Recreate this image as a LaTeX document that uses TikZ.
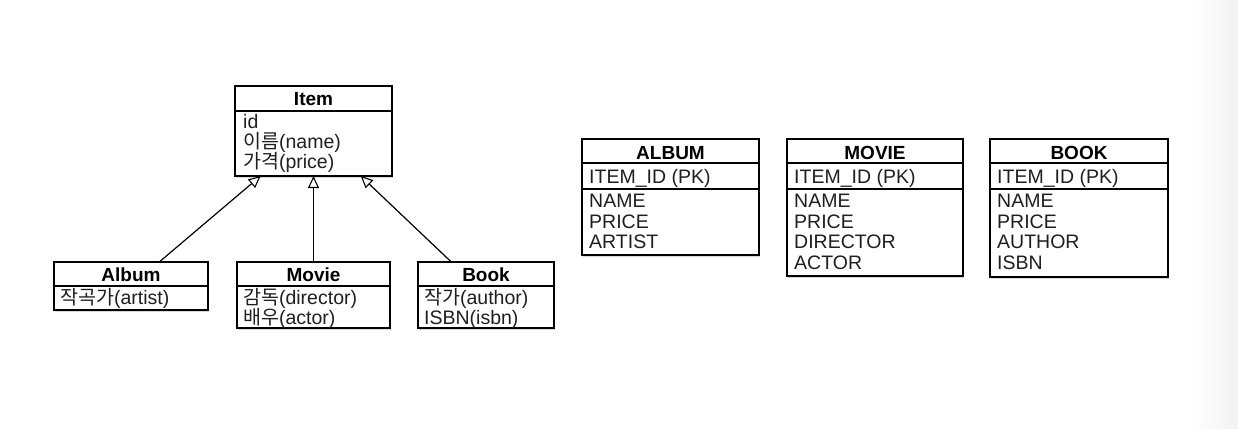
\documentclass[tikz,border=0pt]{standalone}
\usepackage{fontspec}
\setmainfont{Liberation Sans}
\newfontfamily\krfont{Noto Sans CJK KR}
\newcommand\kor[1]{{\krfont #1}}
\usetikzlibrary{arrows.meta,shadows}
\begin{document}
\begin{tikzpicture}[x=1pt,y=-1pt,
  box/.style={draw=black, line width=1.3pt, fill=white, inner sep=0pt, outer sep=0pt,
    drop shadow={shadow xshift=1.2pt, shadow yshift=-1.6pt, opacity=0.3}},
  title/.style={font=\fontsize{19}{21}\selectfont\bfseries, anchor=base, inner sep=0pt},
  attr/.style={font=\fontsize{19.5}{21}\selectfont, text=black!88, anchor=base west, inner sep=0pt},
  divider/.style={line width=1.3pt},
  gen/.style={line width=1.2pt, -{Triangle[open, length=12pt, width=11pt, line width=1.1pt]}}]
\useasboundingbox (0,0) rectangle (1238,428);
\fill[white] (0,0) rectangle (1238,428);
\shade[left color=white, right color=black!5] (1190,0) rectangle (1238,428);

% ---------- class diagram ----------
\node[box, minimum width=157pt, minimum height=90pt] (item) at (313.5,131) {};
\draw[divider] (235,111) -- (392,111);
\node[title] (itemT) at (313.5,105.5) {Item};
\node[attr] (itemA1) at (243,128) {id};
\node[attr] (itemA2) at (243,148) {\kor{이름}(name)};
\node[attr] (itemA3) at (243,168) {\kor{가격}(price)};

\node[box, minimum width=154pt, minimum height=48pt] (album) at (131,286) {};
\draw[divider] (54,286) -- (208,286);
\node[title] (albumT) at (131,281.5) {Album};
\node[attr] (albumA1) at (60,304) {\kor{작곡가}(artist)};

\node[box, minimum width=153pt, minimum height=66pt] (movie) at (313.5,295) {};
\draw[divider] (237,286) -- (390,286);
\node[title] (movieT) at (313.5,281.5) {Movie};
\node[attr] (movieA1) at (243,304) {\kor{감독}(director)};
\node[attr] (movieA2) at (243,324) {\kor{배우}(actor)};

\node[box, minimum width=136pt, minimum height=66pt] (book) at (486,295) {};
\draw[divider] (418,286) -- (554,286);
\node[title] (bookT) at (486,281.5) {Book};
\node[attr] (bookA1) at (424,304) {\kor{작가}(author)};
\node[attr] (bookA2) at (424,324) {ISBN(isbn)};

\draw[gen] (album) -- (item);
\draw[gen] (movie) -- (item);
\draw[gen] (book) -- (item);

% ---------- tables ----------
\node[box, minimum width=177pt, minimum height=116pt] (tAlbum) at (670.5,197) {};
\draw[divider] (582,163) -- (759,163);
\draw[divider] (582,189) -- (759,189);
\node[title] (tAlbumT) at (670.5,159.5) {ALBUM};
\node[attr] (tAlbumPK) at (589,183.5) {ITEM\_ID (PK)};
\node[attr] (tAlbumC1) at (589,207.5) {NAME};
\node[attr] (tAlbumC2) at (589,228) {PRICE};
\node[attr] (tAlbumC3) at (589,248.5) {ARTIST};

\node[box, minimum width=176pt, minimum height=137pt] (tMovie) at (875,207.5) {};
\draw[divider] (787,163) -- (963,163);
\draw[divider] (787,189) -- (963,189);
\node[title] (tMovieT) at (875,159.5) {MOVIE};
\node[attr] (tMoviePK) at (794,183.5) {ITEM\_ID (PK)};
\node[attr] (tMovieC1) at (794,207.5) {NAME};
\node[attr] (tMovieC2) at (794,228) {PRICE};
\node[attr] (tMovieC3) at (794,248.5) {DIRECTOR};
\node[attr] (tMovieC4) at (794,269) {ACTOR};

\node[box, minimum width=178pt, minimum height=138pt] (tBook) at (1079,208) {};
\draw[divider] (990,163) -- (1168,163);
\draw[divider] (990,189) -- (1168,189);
\node[title] (tBookT) at (1079,159.5) {BOOK};
\node[attr] (tBookPK) at (997,183.5) {ITEM\_ID (PK)};
\node[attr] (tBookC1) at (997,207.5) {NAME};
\node[attr] (tBookC2) at (997,228) {PRICE};
\node[attr] (tBookC3) at (997,248.5) {AUTHOR};
\node[attr] (tBookC4) at (997,269) {ISBN};
\end{tikzpicture}
\end{document}
